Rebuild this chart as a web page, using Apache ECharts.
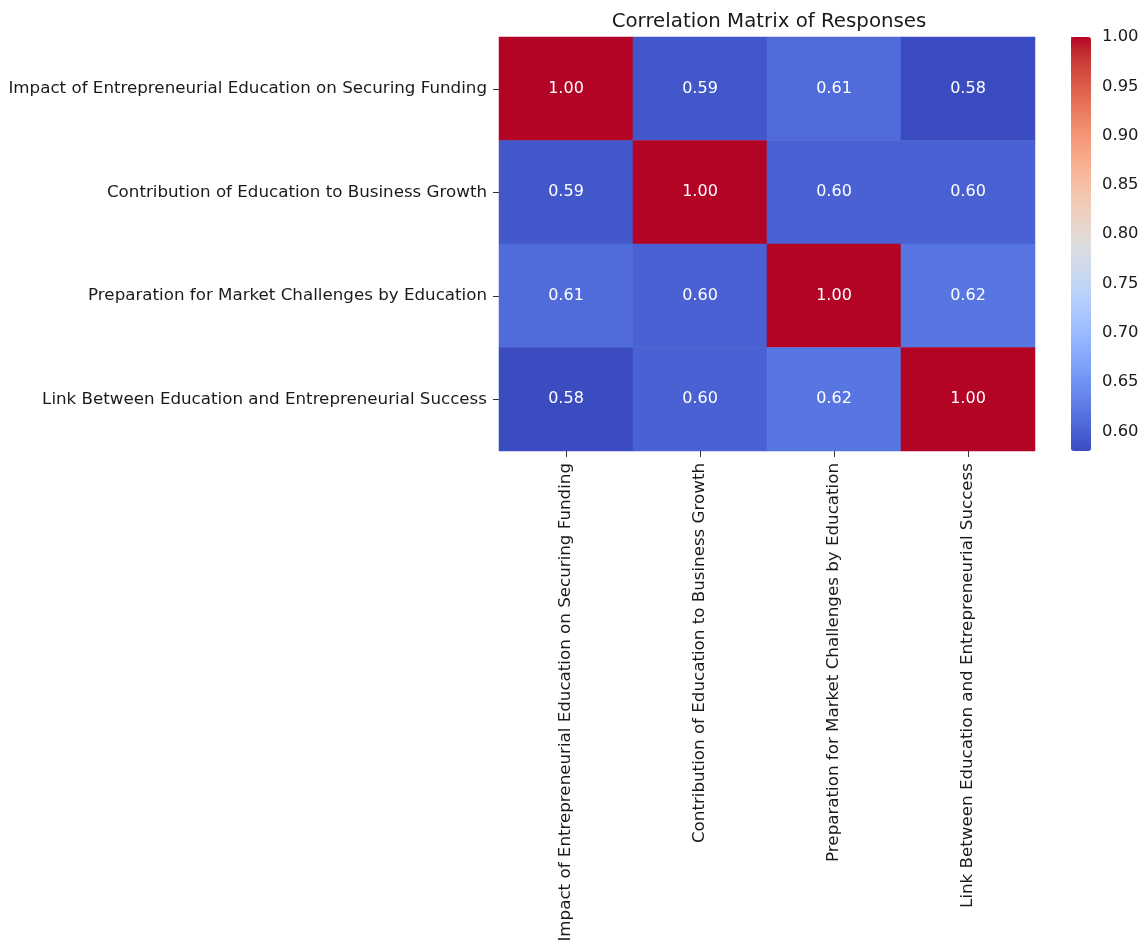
<!DOCTYPE html>
<html>
<head>
<meta charset="utf-8">
<script src="https://cdn.jsdelivr.net/npm/echarts@6/dist/echarts.min.js"></script>
<style>
  html, body { margin: 0; padding: 0; background: #ffffff; }
  #chart { width: 1144px; height: 950px; }
</style>
</head>
<body>
<div id="chart"></div>
<script>
// Survey items compared in the correlation matrix
const items = [
  'Impact of Entrepreneurial Education on Securing Funding',
  'Contribution of Education to Business Growth',
  'Preparation for Market Challenges by Education',
  'Link Between Education and Entrepreneurial Success'
];

// Pairwise correlations, one row per item (same order as items)
const rowFunding     = [1.00, 0.59, 0.61, 0.58];
const rowGrowth      = [0.59, 1.00, 0.60, 0.60];
const rowPreparation = [0.61, 0.60, 1.00, 0.62];
const rowSuccess     = [0.58, 0.60, 0.62, 1.00];

// Colour bar range and tick labels
const colorMin = 0.58;
const colorMax = 1.00;
const colorTicks = [0.60, 0.65, 0.70, 0.75, 0.80, 0.85, 0.90, 0.95, 1.00];

// Diverging cool-warm palette (blue -> grey -> red)
const coolwarm = [
  '#3b4cc0', '#445acc', '#4d68d7', '#5775e1', '#6282ea', '#6c8ef1', '#779af7', '#82a5fb',
  '#8db0fe', '#98b9ff', '#a3c2ff', '#aec9fd', '#b8d0f9', '#c2d5f4', '#ccd9ee', '#d5dbe6',
  '#dddddd', '#e5d8d1', '#ecd3c5', '#f1ccb8', '#f5c4ac', '#f7bb9f', '#f7b193', '#f7a786',
  '#f49a7b', '#f18d6f', '#ec7f63', '#e57058', '#de604d', '#d55042', '#cb3e38', '#c0282f',
  '#b40426'
];

const matrix = [rowFunding, rowGrowth, rowPreparation, rowSuccess];
const cells = [];
matrix.forEach((row, y) => row.forEach((v, x) => cells.push([x, y, v])));

const FONT = 'DejaVu Sans';
const TEXT = '#1a1a1a';

const chart = echarts.init(document.getElementById('chart'), null, { renderer: 'canvas' });

chart.setOption({
  backgroundColor: '#ffffff',
  animation: false,
  title: {
    text: 'Correlation Matrix of Responses',
    left: 764,
    top: 7,
    textAlign: 'center',
    textStyle: { fontFamily: FONT, fontSize: 19.8, fontWeight: 'normal', color: TEXT }
  },
  grid: [
    { left: 499, top: 37, width: 536, height: 414, outerBoundsMode: 'none', containLabel: false },
    { left: 1071, top: 37, width: 20, height: 414, outerBoundsMode: 'none', containLabel: false }
  ],
  xAxis: [
    {
      type: 'category',
      gridIndex: 0,
      data: items,
      position: 'bottom',
      axisLine: { show: false },
      axisTick: { show: true, alignWithLabel: true, length: 6, lineStyle: { color: '#333', width: 1 } },
      axisLabel: { rotate: 90, margin: 12, interval: 0, fontFamily: FONT, fontSize: 16.7, color: TEXT },
      splitLine: { show: false }
    },
    {
      type: 'value',
      gridIndex: 1,
      show: false,
      min: 0,
      max: 1
    }
  ],
  yAxis: [
    {
      type: 'category',
      gridIndex: 0,
      data: items,
      inverse: true,
      axisLine: { show: false },
      axisTick: { show: true, alignWithLabel: true, length: 6, lineStyle: { color: '#333', width: 1 } },
      axisLabel: { margin: 12, interval: 0, fontFamily: FONT, fontSize: 16.7, color: TEXT },
      splitLine: { show: false }
    },
    {
      type: 'value',
      gridIndex: 1,
      position: 'right',
      min: colorMin,
      max: colorMax,
      axisLine: { show: false },
      splitLine: { show: false },
      axisTick: { show: true, length: 5, customValues: colorTicks, lineStyle: { color: '#333', width: 1 } },
      axisLabel: {
        margin: 11,
        customValues: colorTicks,
        formatter: v => v.toFixed(2),
        fontFamily: FONT, fontSize: 16.4, color: TEXT
      }
    }
  ],
  visualMap: {
    type: 'continuous',
    seriesIndex: 0,
    min: colorMin,
    max: colorMax,
    calculable: false,
    orient: 'vertical',
    left: 1071,
    top: 37,
    itemWidth: 20,
    itemHeight: 414,
    padding: 0,
    text: null,
    showLabel: false,
    hoverLink: false,
    inRange: { color: coolwarm }
  },
  series: [
    {
      type: 'heatmap',
      xAxisIndex: 0,
      yAxisIndex: 0,
      data: cells,
      itemStyle: { borderWidth: 0 },
      label: {
        show: true,
        formatter: p => p.value[2].toFixed(2),
        fontFamily: FONT,
        fontSize: 16,
        color: '#ffffff'
      },
      emphasis: { disabled: true }
    },
    {
      type: 'scatter',
      xAxisIndex: 1,
      yAxisIndex: 1,
      data: [],
      silent: true
    }
  ]
});
</script>
</body>
</html>
